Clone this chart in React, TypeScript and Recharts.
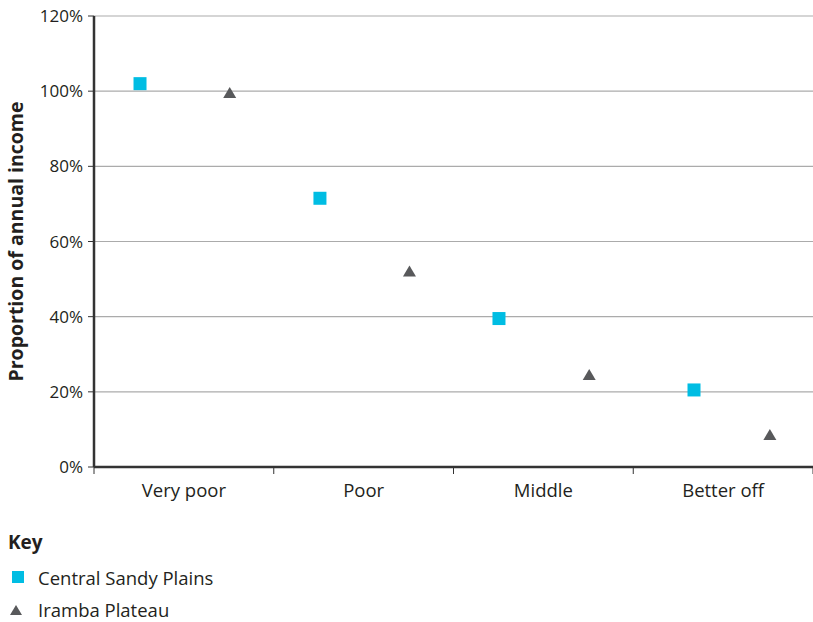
import { ScatterChart, Scatter, XAxis, YAxis, CartesianGrid, Label } from 'recharts';

const categories = ['Very poor', 'Poor', 'Middle', 'Better off'];
const centralSandyPlains = [102, 71.5, 39.5, 20.5];
const irambaPlateau = [99.5, 52, 24.5, 8.5];
// where each point sits inside its category band (0..1)
const centralX = [0.256, 0.257, 0.253, 0.338];
const irambaX = [0.755, 0.755, 0.755, 0.76];
const yTicks = [0, 20, 40, 60, 80, 100, 120];

const FONT = '"Open Sans", Lato, sans-serif';
const CYAN = '#00BDE3';
const GREY = '#58595B';

const centralData = categories.map((c, i) => ({ x: i + centralX[i], y: centralSandyPlains[i], name: c }));
const irambaData = categories.map((c, i) => ({ x: i + irambaX[i], y: irambaPlateau[i], name: c }));

const xTicks: number[] = [];
for (let i = 0; i <= categories.length * 2; i++) xTicks.push(i / 2);

const SquareShape = (props: any) => {
  const { cx, cy } = props;
  return <rect x={cx - 6.5} y={cy - 6.5} width={13} height={13} fill={CYAN} />;
};

const TriangleShape = (props: any) => {
  const { cx, cy } = props;
  return <polygon points={`${cx - 6.5},${cy + 5} ${cx + 6.5},${cy + 5} ${cx},${cy - 6}`} fill={GREY} />;
};

const XTick = (props: any) => {
  const { x, y, payload } = props;
  const v = payload.value;
  if (Number.isInteger(v)) {
    return <line x1={x} x2={x} y1={y} y2={y + 7} stroke="#333" strokeWidth={1} />;
  }
  return (
    <text x={x} y={y + 30} textAnchor="middle" fontSize={18.5} fill="#231F20" fontFamily={FONT}>
      {categories[Math.floor(v)]}
    </text>
  );
};

export default function App() {
  return (
    <div style={{ position: 'absolute', left: 0, top: 0, width: 813, height: 622, background: '#fff' }}>
      <ScatterChart width={813} height={510} margin={{ top: 16, right: 0, bottom: 3, left: 0 }}>
        <CartesianGrid vertical={false} stroke="#ABABAB" strokeWidth={1.2} />
        <XAxis
          type="number"
          dataKey="x"
          domain={[0, 4]}
          ticks={xTicks}
          interval={0}
          height={40}
          tickLine={false}
          tickSize={0}
          tickMargin={0}
          tick={<XTick />}
          axisLine={{ stroke: '#333', strokeWidth: 2.5 }}
        />
        <YAxis
          type="number"
          dataKey="y"
          domain={[0, 120]}
          ticks={yTicks}
          interval={0}
          width={94}
          tickSize={6}
          tickMargin={5}
          tickFormatter={(v: number) => `${v}%`}
          tick={{ fontSize: 17, fill: '#231F20', fontFamily: FONT }}
          tickLine={{ stroke: '#333' }}
          axisLine={{ stroke: '#333', strokeWidth: 2.5 }}
        >
          <Label
            value="Proportion of annual income"
            angle={-90}
            position="insideLeft"
            offset={16}
            style={{ textAnchor: 'middle', fontSize: 19.5, fontWeight: 700, fill: '#231F20', fontFamily: FONT }}
          />
        </YAxis>
        <Scatter name="Central Sandy Plains" data={centralData} shape={SquareShape} isAnimationActive={false} />
        <Scatter name="Iramba Plateau" data={irambaData} shape={TriangleShape} isAnimationActive={false} />
      </ScatterChart>
      <div style={{ position: 'absolute', left: 8, top: 531, fontFamily: FONT, color: '#231F20' }}>
        <div style={{ fontSize: 19, fontWeight: 700, lineHeight: '22px' }}>Key</div>
        <div style={{ display: 'flex', alignItems: 'center', marginTop: 14, fontSize: 18.5, height: 20 }}>
          <svg width={30} height={20}>
            <rect x={4} y={4} width={12} height={12} fill={CYAN} />
          </svg>
          <span>Central Sandy Plains</span>
        </div>
        <div style={{ display: 'flex', alignItems: 'center', marginTop: 12, fontSize: 18.5, height: 20 }}>
          <svg width={30} height={20}>
            <polygon points="2,16 14,16 8,6" fill={GREY} />
          </svg>
          <span>Iramba Plateau</span>
        </div>
      </div>
    </div>
  );
}
